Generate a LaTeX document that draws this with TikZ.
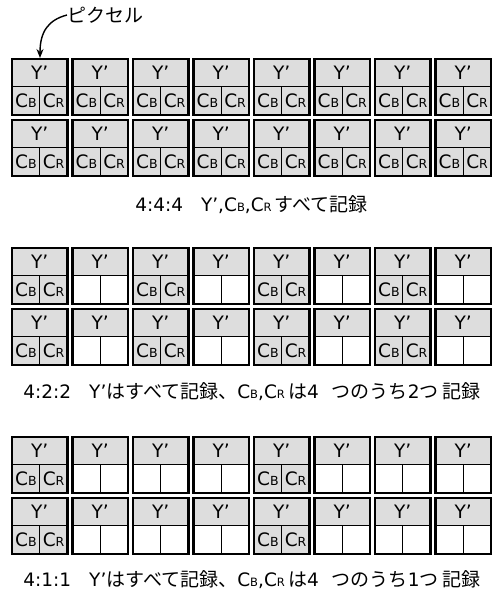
\documentclass[tikz,border=0pt]{standalone}
\usepackage{fontspec}
\setmainfont{DejaVu Sans}
\newfontfamily\jp{Noto Sans CJK JP}
\usetikzlibrary{arrows.meta}
\definecolor{cellgray}{RGB}{221,221,221}
\newcommand\subB{{\fontsize{12.5}{12.5}\selectfont B}}
\newcommand\subR{{\fontsize{12.5}{12.5}\selectfont R}}
\newcommand\capB{{\fontsize{11.5}{11.5}\selectfont B}}
\newcommand\capR{{\fontsize{11.5}{11.5}\selectfont R}}
\newcommand\J[1]{{\jp\fontsize{19}{19}\selectfont #1}}
\begin{document}
\begin{tikzpicture}[x=1pt,y=-1pt,
  ycell/.style={draw=black,line width=0.8pt,fill=cellgray,minimum width=55.5pt,minimum height=27pt,inner sep=0pt,outer sep=0pt,font=\fontsize{18.5}{18.5}\selectfont},
  ccell/.style={draw=black,line width=0.8pt,minimum width=27.75pt,minimum height=29pt,inner sep=0pt,outer sep=0pt,font=\fontsize{18.5}{18.5}\selectfont},
  outline/.style={draw=black,line width=2.2pt},
  caption/.style={font=\fontsize{18.5}{18.5}\selectfont,inner sep=0pt}]
\useasboundingbox (0,0) rectangle (492,595);
\foreach \s in {0,1,2}{
  \foreach \r in {0,1}{
    \foreach \c in {0,...,7}{
      \pgfmathsetmacro{\xo}{12+60.5*\c}
      \pgfmathsetmacro{\yo}{59.3+189*\s+60.7*\r}
      \pgfmathtruncatemacro{\haschroma}{\s==0 ? 1 : (\s==1 ? (mod(\c,2)==0 ? 1 : 0) : (mod(\c,4)==0 ? 1 : 0))}
      \node[ycell] (Y-\s-\r-\c) at (\xo+27.75,\yo+13.5) {Y’};
      \ifnum\haschroma=1
        \node[ccell,fill=cellgray] (B-\s-\r-\c) at (\xo+13.875,\yo+41.5) {C\subB};
        \node[ccell,fill=cellgray] (R-\s-\r-\c) at (\xo+41.625,\yo+41.5) {C\subR};
      \else
        \node[ccell,fill=white] (B-\s-\r-\c) at (\xo+13.875,\yo+41.5) {};
        \node[ccell,fill=white] (R-\s-\r-\c) at (\xo+41.625,\yo+41.5) {};
      \fi
      \draw[outline] (Y-\s-\r-\c.north west) rectangle (R-\s-\r-\c.south east);
    }
  }
}
\node[caption] (cap1) at (251.5,205) {4:4:4\hspace{18pt}Y’,C\capB,C\capR\,\J{すべて記録}};
\node[caption] (cap2) at (252,392) {4:2:2\hspace{18pt}Y’\J{はすべて記録、}C\capB,C\capR\,\J{は}4\hspace{13pt}\J{つのうち}2\J{つ}\hspace{4pt}\J{記録}};
\node[caption] (cap3) at (252,580) {4:1:1\hspace{18pt}Y’\J{はすべて記録、}C\capB,C\capR\,\J{は}4\hspace{13pt}\J{つのうち}1\J{つ}\hspace{4pt}\J{記録}};
\node[caption,anchor=west,font=\jp\fontsize{19}{19}\selectfont] (pix) at (67,15) {ピクセル};
\draw[line width=1.4pt,-{Stealth[length=9pt,width=7pt]}] (pix.west) .. controls (48,20) and (40,32) .. (40,58);
\end{tikzpicture}
\end{document}
